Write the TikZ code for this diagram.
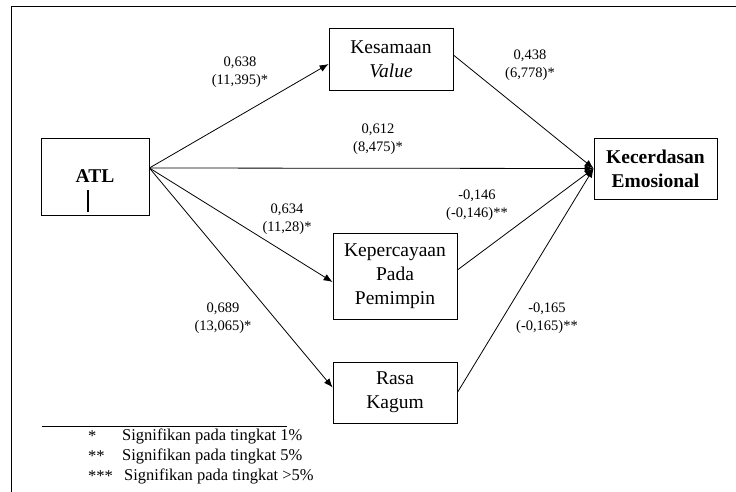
\documentclass[tikz,border=0pt]{standalone}
\usepackage{fontspec}
\setmainfont{Liberation Serif}
\usetikzlibrary{arrows.meta}
\tikzset{
  varbox/.style={draw, line width=0.8pt, align=center, inner sep=0pt,
    font=\fontsize{19.5}{24}\selectfont},
  coef/.style={align=center, inner sep=0pt, font=\fontsize{14.5}{18}\selectfont},
  note/.style={anchor=west, inner sep=0pt, font=\fontsize{16.5}{20}\selectfont},
  path/.style={line width=0.8pt, -{Latex[length=9pt,width=7pt]}},
  plain/.style={line width=0.8pt}
}
\begin{document}
\begin{tikzpicture}[x=1pt,y=-1pt]
\useasboundingbox (0,0) rectangle (736,492);
% frame
\draw[plain] (11,492) -- (11,6) -- (736,6);
% variables
\node[varbox, minimum width=108pt, minimum height=77pt] (atl) at (95,176.5) {\textbf{ATL}};
\draw[line width=1.6pt] ([xshift=-7pt,yshift=3pt]atl.south) -- ++(0pt,22pt);
\node[varbox, minimum width=124pt, minimum height=62pt] (kes) at (391,59) {Kesamaan\\\textit{Value}};
\node[varbox, minimum width=123pt, minimum height=61pt] (kec) at (655.5,168.5) {\textbf{Kecerdasan}\\\textbf{Emosional}};
\node[varbox, minimum width=124pt, minimum height=86pt] (kep) at (395,276) {Kepercayaan\\Pada\\Pemimpin};
\node[varbox, minimum width=124pt, minimum height=61pt] (rasa) at (395,392.5) {Rasa\\Kagum};
\coordinate (src) at ([yshift=8.5pt]atl.east);
% paths
\draw[path] (src) -- ([yshift=-5pt]kes.west);
\draw[path] (src) -- (kec.west);
\draw[path] (src) -- ([yshift=-6pt]kep.west);
\draw[path] (src) -- ([yshift=5pt]rasa.west);
\draw[path] ([yshift=4pt]kes.east) -- (kec.west);
\draw[path] ([yshift=6pt]kep.east) -- (kec.west);
\draw[path] (rasa.east) -- (kec.west);
% coefficients
\node[coef] (c1) at (240,72) {0,638\\(11,395)*};
\node[coef] (c2) at (378,139) {0,612\\(8,475)*};
\node[coef] (c3) at (530,65) {0,438\\(6,778)*};
\node[coef] (c4) at (287,219) {0,634\\(11,28)*};
\node[coef] (c5) at (477,205) {-0,146\\(-0,146)**};
\node[coef] (c6) at (223,318) {0,689\\(13,065)*};
\node[coef] (c7) at (547,318) {-0,165\\(-0,165)**};
% legend
\draw[plain] (42,426) -- (287,426);
\node[note] (s1) at (88,436) {*};
\node[note] (s2) at (88,456) {**};
\node[note] (s3) at (88,476) {***};
\node[note] (n1) at (122,436) {Signifikan pada tingkat 1\%};
\node[note] (n2) at (122,456) {Signifikan pada tingkat 5\%};
\node[note] (n3) at (124,476) {Signifikan pada tingkat >5\%};
\end{tikzpicture}
\end{document}
